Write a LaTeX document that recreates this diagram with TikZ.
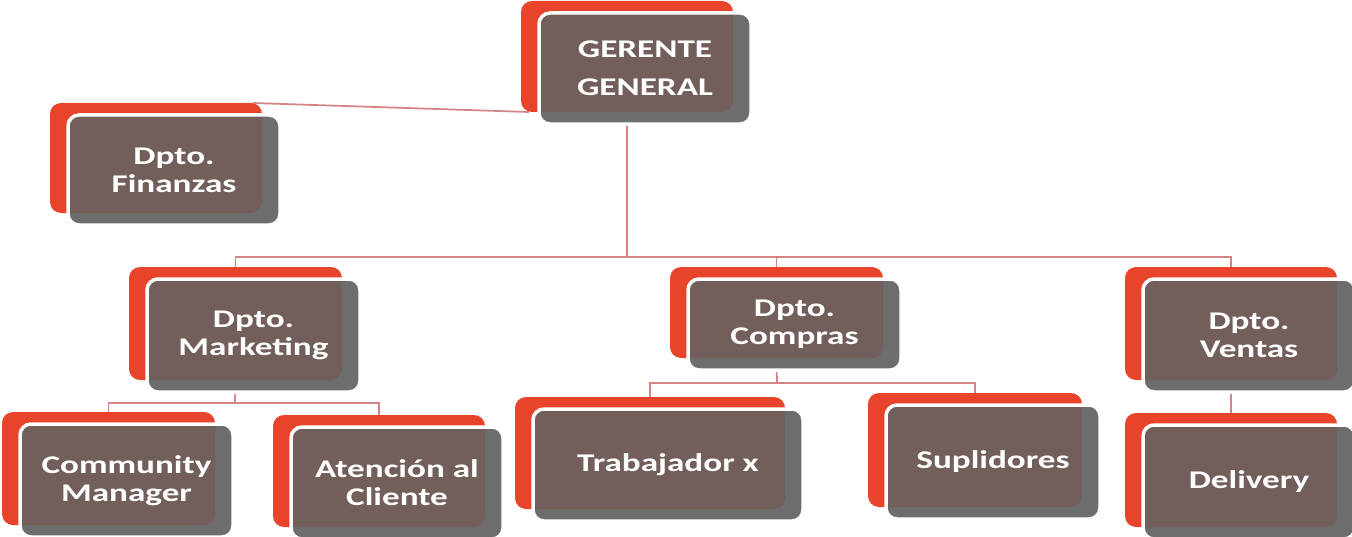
\documentclass[tikz,border=0pt]{standalone}
\usepackage{fontspec}
\newfontfamily\orgfont{Carlito}[FakeStretch=1.38]
\usepackage{tikz}
\usetikzlibrary{backgrounds}

\definecolor{orgred}{HTML}{E8442B}
\definecolor{orgbrown}{HTML}{725F5B}
\definecolor{orggrey}{HTML}{6D6D6D}
\definecolor{orglink}{HTML}{D38484}

\tikzset{
  redback/.style={fill=orgred, rounded corners=0.22cm, inner sep=0pt, outer sep=0pt},
  frontbox/.style={fill=orggrey, draw=white, line width=0.07cm, rounded corners=0.22cm,
    inner sep=0pt, outer sep=0pt, text=white, align=center,
    font=\orgfont\bfseries\fontsize{14.5}{16}\selectfont,
    path picture={\fill[orgbrown, rounded corners=0.22cm]
      ([xshift=-0.36cm, yshift=0.24cm]path picture bounding box.south west) rectangle
      ([xshift=-0.36cm, yshift=0.24cm]path picture bounding box.north east);}},
  link/.style={orglink, line width=1pt}
}

% name, red box x1, y1, x2, y2 (pixels), text
% the front box sits 18px right and 12px down of the red one
\newcommand{\orgunit}[6]{%
  \node[redback, minimum width={(#4-#2)*0.02cm}, minimum height={(#5-#3)*0.02cm}]
    (#1-r) at ({(#2+#4)/2},{(#3+#5)/2}) {};
  \node[frontbox, minimum width={(#4-#2)*0.02cm}, minimum height={(#5-#3)*0.02cm}]
    (#1) at ({(#2+#4)/2+18},{(#3+#5)/2+12}) {#6};
}

\begin{document}
\begin{tikzpicture}[x=0.02cm, y=-0.02cm]
	\useasboundingbox (0,0) rectangle (1352,537);
	\orgunit{ger}{521}{1}{733}{112}{GERENTE\\[5.5pt]GENERAL}
	\orgunit{fin}{50}{103}{262}{213}{Dpto.\\Finanzas}
	\orgunit{mkt}{129}{267}{342}{380}{Dpto.\\Marketing}
	\orgunit{cmp}{670}{267}{883}{358}{Dpto.\\Compras}
	\orgunit{vta}{1125}{267}{1337}{380}{Dpto.\\Ventas}
	\orgunit{com}{2}{412}{215}{525}{Community\\Manager}
	\orgunit{ate}{273}{415}{485}{527}{Atención al\\Cliente}
	\orgunit{trb}{515}{397}{785}{509}{Trabajador x}
	\orgunit{sup}{868}{393}{1082}{507}{Suplidores}
	\orgunit{del}{1125}{413}{1337}{527}{Delivery}
	% bus lines
	\coordinate (bus1) at (627,257);
	\coordinate (bus2) at (235,403);
	\coordinate (bus3) at (777,383);
	\begin{scope}[on background layer]
	\draw[link] ([xshift=0.16cm]ger-r.south west) -- ([xshift=-0.18cm]fin-r.north east);
	\draw[link] (ger-r.south) -- (bus1);
	\draw[link] (mkt-r.north) |- (bus1) -| (vta-r.north);
	\draw[link] (cmp-r.north) -- (cmp-r.north |- bus1);
	\draw[link] (mkt-r.south) -- (bus2);
	\draw[link] (com-r.north) |- (bus2) -| (ate-r.north);
	\draw[link] (cmp-r.south) -- (bus3);
	\draw[link] (trb-r.north) |- (bus3) -| (sup-r.north);
	\draw[link] (vta-r.south) -- (del-r.north);
	\end{scope}
\end{tikzpicture}
\end{document}
